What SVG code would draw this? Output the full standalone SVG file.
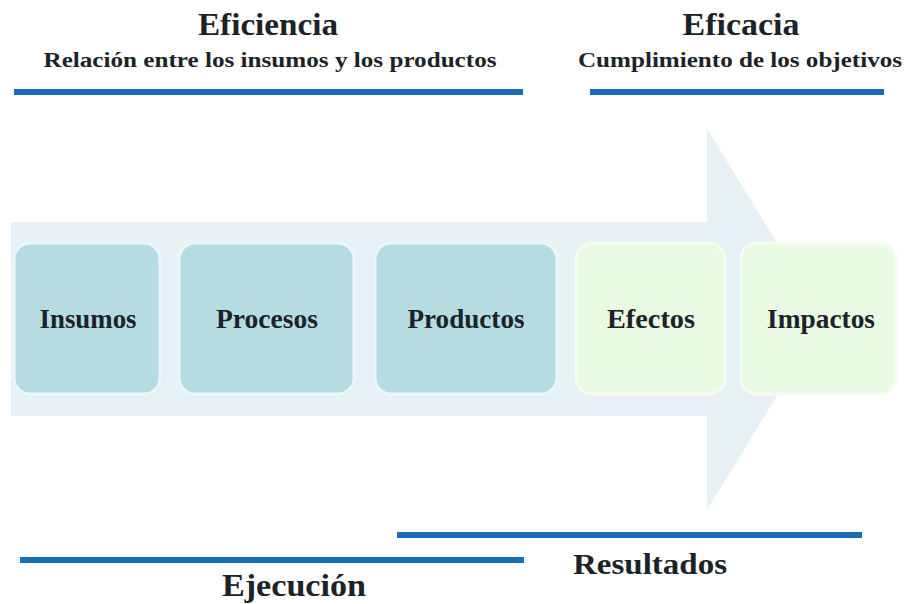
<svg xmlns="http://www.w3.org/2000/svg" width="904" height="604" viewBox="0 0 904 604">
<style>
.t{font-family:"Liberation Serif","Times New Roman",serif;font-weight:bold;fill:#1b2328;text-anchor:middle}
.bar{stroke:#1a6cb8;stroke-width:6;stroke-linecap:butt}
.bl{fill:#b5dde1;stroke:#eaf6f8;stroke-width:3}
.gr{fill:#e9fbe2;stroke:#f3fdf0;stroke-width:3}
.lbl{font-size:27px}
</style>
<rect width="904" height="604" fill="#ffffff"/>
<g id="arrow">
<polygon points="11,222 707,222 707,129 824,319 707,510 707,416 11,416" fill="#e7f0f4"/>
</g>
<g id="eficiencia">
<text class="t" x="268" y="35" font-size="31" textLength="140" lengthAdjust="spacingAndGlyphs">Eficiencia</text>
<text class="t" x="270" y="67" font-size="20" textLength="453" lengthAdjust="spacingAndGlyphs">Relación entre los insumos y los productos</text>
</g>
<g id="eficacia">
<text class="t" x="741" y="35" font-size="31" textLength="117" lengthAdjust="spacingAndGlyphs">Eficacia</text>
<text class="t" x="740" y="67" font-size="20" textLength="324" lengthAdjust="spacingAndGlyphs">Cumplimiento de los objetivos</text>
</g>
<g id="insumos">
<rect class="bl" x="14" y="243" width="146" height="151" rx="16"/>
<text class="t lbl" x="88" y="328" textLength="97" lengthAdjust="spacingAndGlyphs">Insumos</text>
</g>
<g id="procesos">
<rect class="bl" x="179" y="243" width="175" height="151" rx="16"/>
<text class="t lbl" x="267" y="328" textLength="102" lengthAdjust="spacingAndGlyphs">Procesos</text>
</g>
<g id="productos">
<rect class="bl" x="375" y="243" width="182" height="151" rx="16"/>
<text class="t lbl" x="466" y="328" textLength="117" lengthAdjust="spacingAndGlyphs">Productos</text>
</g>
<g id="efectos">
<rect class="gr" x="576" y="243" width="149" height="151" rx="16"/>
<text class="t lbl" x="651" y="328" textLength="88" lengthAdjust="spacingAndGlyphs">Efectos</text>
</g>
<g id="impactos">
<rect class="gr" x="741" y="243" width="155" height="151" rx="16"/>
<text class="t lbl" x="821" y="328" textLength="108" lengthAdjust="spacingAndGlyphs">Impactos</text>
</g>
<g id="connectors">
<line class="bar" x1="14" y1="92" x2="523" y2="92"/>
<line class="bar" x1="590" y1="92" x2="884" y2="92"/>
<line class="bar" x1="397" y1="535" x2="862" y2="535"/>
<line class="bar" x1="20" y1="560" x2="524" y2="560"/>
</g>
<g id="resultados">
<text class="t" x="650" y="574" font-size="30" textLength="154" lengthAdjust="spacingAndGlyphs">Resultados</text>
</g>
<g id="ejecucion">
<text class="t" x="294" y="596" font-size="32" textLength="144" lengthAdjust="spacingAndGlyphs">Ejecución</text>
</g>
</svg>
